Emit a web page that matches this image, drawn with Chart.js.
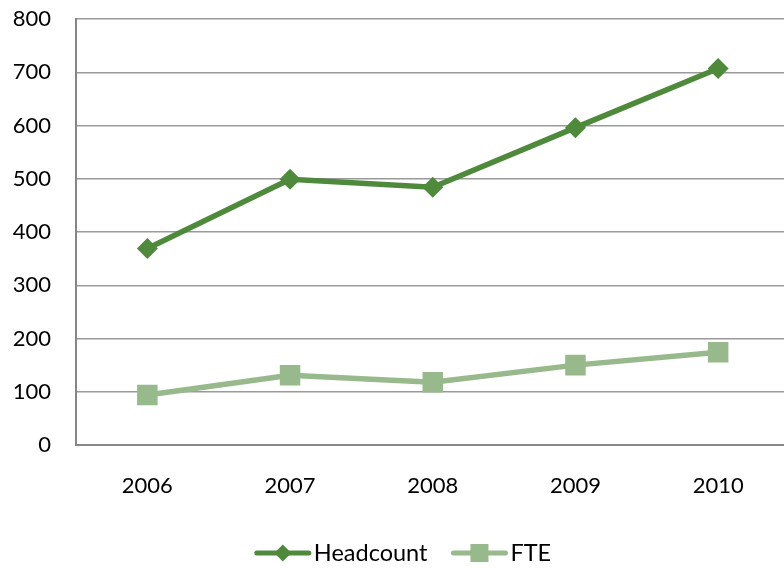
<!DOCTYPE html>
<html>
<head>
<meta charset="utf-8">
<script src="https://cdn.jsdelivr.net/npm/chart.js@4/dist/chart.umd.min.js"></script>
<style>
  html, body { margin: 0; padding: 0; background: #fff; overflow: hidden; }
  #wrap { position: relative; width: 804px; height: 568px; }
</style>
</head>
<body>
<div id="wrap"><canvas id="c" width="804" height="568"></canvas></div>
<script>
const categories = ['2006', '2007', '2008', '2009', '2010'];
const headcount = [369, 499, 484, 596, 707];
const fte = [94, 131, 118, 150, 174];
const yTicks = [0, 100, 200, 300, 400, 500, 600, 700, 800];

const FONT = 'Lato, "Open Sans", sans-serif';
const dark = '#4F8A3C';
const light = '#98B98C';

const legendPlugin = {
  id: 'customLegend',
  afterDraw(chart) {
    const ctx = chart.ctx;
    ctx.save();
    ctx.font = '23.5px ' + FONT;
    ctx.textBaseline = 'middle';
    ctx.fillStyle = '#000';
    const y = 553;
    const lineLen = 56, gapText = 3, gapItems = 24;
    const items = chart.data.datasets.map(d => ({
      label: d.label, color: d.borderColor, style: d.pointStyle,
      tw: ctx.measureText(d.label).width
    }));
    let total = 0;
    items.forEach((it, i) => { total += lineLen + gapText + it.tw + (i ? gapItems : 0); });
    let x = 403 - total / 2;
    items.forEach((it, i) => {
      if (i) x += gapItems;
      ctx.strokeStyle = it.color;
      ctx.lineWidth = 5;
      ctx.lineCap = 'round';
      ctx.beginPath();
      ctx.moveTo(x + 2, y);
      ctx.lineTo(x + lineLen - 2, y);
      ctx.stroke();
      const cx = x + lineLen / 2;
      ctx.fillStyle = it.color;
      ctx.beginPath();
      if (it.style === 'rectRot') {
        const r = 8.5;
        ctx.moveTo(cx, y - r); ctx.lineTo(cx + r, y); ctx.lineTo(cx, y + r); ctx.lineTo(cx - r, y);
        ctx.closePath();
      } else {
        ctx.rect(cx - 9, y - 9, 18, 18);
      }
      ctx.fill();
      ctx.fillStyle = '#000';
      ctx.fillText(it.label, x + lineLen + gapText, y);
      x += lineLen + gapText + it.tw;
    });
    ctx.restore();
  }
};

function zeroPad(scale) {
  scale.paddingTop = 0; scale.paddingBottom = 0;
  scale.paddingLeft = 0; scale.paddingRight = 0;
}

new Chart(document.getElementById('c'), {
  type: 'line',
  data: {
    labels: categories,
    datasets: [
      {
        label: 'Headcount',
        data: headcount,
        borderColor: dark,
        backgroundColor: dark,
        borderWidth: 5.5,
        pointStyle: 'rectRot',
        pointRadius: 10.5,
        pointBorderWidth: 0,
        pointBackgroundColor: dark,
        tension: 0
      },
      {
        label: 'FTE',
        data: fte,
        borderColor: light,
        backgroundColor: light,
        borderWidth: 5.5,
        pointStyle: 'rect',
        pointRadius: 14.5,
        pointBorderWidth: 0,
        pointBackgroundColor: light,
        tension: 0
      }
    ]
  },
  options: {
    responsive: false,
    animation: false,
    layout: { padding: { top: 19, right: 1, bottom: 69, left: 0 } },
    plugins: {
      legend: { display: false },
      tooltip: { enabled: false }
    },
    scales: {
      x: {
        offset: true,
        afterFit(scale) { scale.height = 54; zeroPad(scale); },
        grid: { display: false, drawTicks: false },
        border: { display: true, color: '#868686', width: 2 },
        ticks: { color: '#000', font: { family: FONT, size: 22 }, padding: 28 }
      },
      y: {
        min: 0,
        max: 800,
        afterBuildTicks(scale) { scale.ticks = yTicks.map(v => ({ value: v })); },
        afterFit(scale) { scale.width = 76; zeroPad(scale); },
        grid: { color: '#9a9a9a', lineWidth: 1.5, drawTicks: false },
        border: { display: true, color: '#868686', width: 2 },
        ticks: { color: '#000', font: { family: FONT, size: 22 }, padding: 25 }
      }
    }
  },
  plugins: [legendPlugin]
});
</script>
</body>
</html>
